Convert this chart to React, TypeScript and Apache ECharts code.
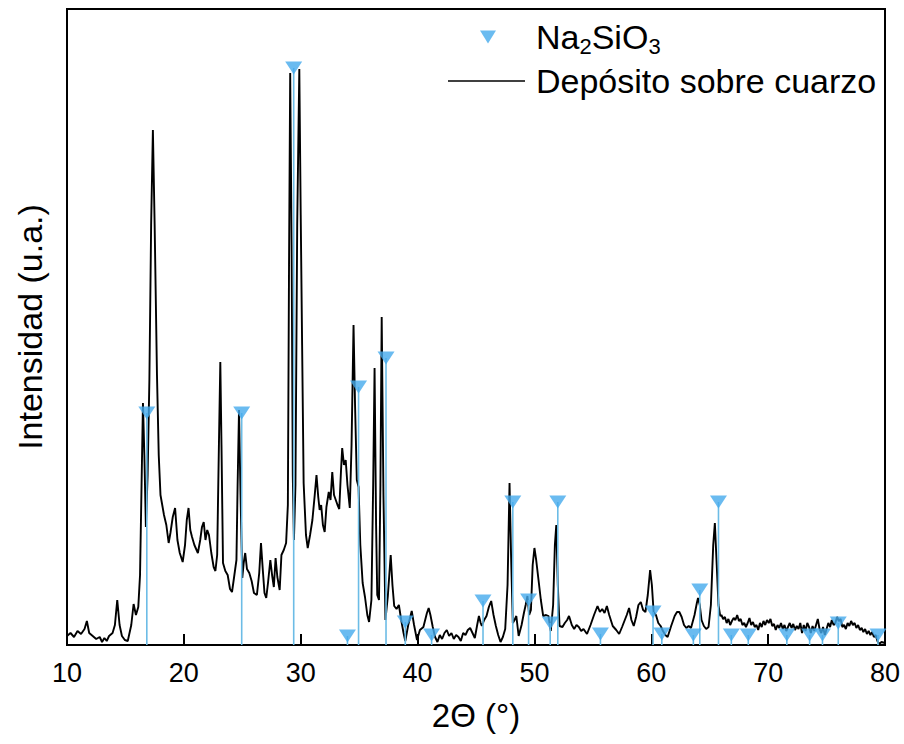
import { useEffect, useRef } from 'react';
import * as echarts from 'echarts';

// Measured pattern "Depósito sobre cuarzo": [2θ (degrees), intensity (a.u.)]
const depositPattern: [number, number][] = [
  [10.0, 9], [10.3, 12], [10.6, 8], [10.9, 14], [11.2, 11], [11.5, 16], [11.7, 24], [11.9, 12],
  [12.2, 9], [12.5, 6], [12.8, 8], [13.0, 3], [13.2, 7], [13.4, 4], [13.6, 9], [13.9, 12],
  [14.1, 20], [14.3, 45], [14.5, 20], [14.7, 9], [14.95, 5], [15.2, 4], [15.5, 20], [15.7, 41],
  [15.9, 30], [16.1, 38], [16.25, 70], [16.38, 160], [16.5, 242], [16.62, 190], [16.75, 118],
  [16.9, 170], [17.05, 265], [17.2, 420], [17.35, 515], [17.5, 420], [17.7, 270], [17.85, 190],
  [18.0, 150], [18.15, 140], [18.3, 130], [18.5, 120], [18.7, 102], [18.85, 112], [19.05, 128],
  [19.25, 137], [19.45, 105], [19.65, 92], [19.9, 83], [20.1, 100], [20.25, 125], [20.4, 137],
  [20.55, 115], [20.7, 108], [20.9, 100], [21.05, 96], [21.2, 92], [21.4, 105], [21.55, 118],
  [21.7, 123], [21.85, 105], [22.0, 115], [22.15, 110], [22.35, 92], [22.55, 78], [22.7, 74],
  [22.85, 90], [23.0, 200], [23.12, 283], [23.22, 200], [23.35, 82], [23.55, 74], [23.75, 70],
  [23.95, 56], [24.12, 53], [24.3, 68], [24.5, 85], [24.6, 160], [24.72, 235], [24.85, 150],
  [25.0, 67], [25.12, 82], [25.25, 92], [25.4, 76], [25.6, 72], [25.8, 64], [26.0, 52],
  [26.25, 50], [26.45, 72], [26.6, 102], [26.75, 76], [26.9, 52], [27.05, 47], [27.2, 62],
  [27.4, 85], [27.55, 70], [27.7, 58], [27.85, 87], [28.0, 68], [28.2, 55], [28.35, 90],
  [28.55, 95], [28.75, 102], [28.9, 140], [29.0, 380], [29.1, 572], [29.22, 400], [29.32, 170],
  [29.42, 105], [29.55, 160], [29.7, 420], [29.88, 576], [30.0, 430], [30.12, 300], [30.25, 162],
  [30.45, 110], [30.6, 97], [30.8, 110], [31.0, 125], [31.2, 150], [31.35, 170], [31.5, 148],
  [31.62, 135], [31.75, 140], [31.9, 120], [32.05, 113], [32.2, 138], [32.4, 153], [32.55, 145],
  [32.7, 173], [32.85, 150], [33.0, 145], [33.15, 140], [33.3, 136], [33.45, 175], [33.55, 197],
  [33.7, 180], [33.85, 185], [34.0, 160], [34.2, 137], [34.35, 200], [34.52, 320], [34.65, 240],
  [34.8, 165], [34.95, 158], [35.1, 100], [35.3, 62], [35.5, 48], [35.7, 30], [35.85, 23],
  [36.05, 45], [36.2, 160], [36.32, 277], [36.45, 120], [36.55, 50], [36.7, 45], [36.82, 160],
  [36.93, 328], [37.08, 150], [37.25, 25], [37.45, 48], [37.7, 90], [37.85, 60], [38.0, 39],
  [38.2, 36], [38.4, 40], [38.6, 25], [38.8, 12], [38.95, 4], [39.2, 20], [39.5, 34], [39.7, 20],
  [39.95, 5], [40.2, 15], [40.5, 18], [40.8, 32], [40.95, 37], [41.1, 30], [41.3, 18], [41.5, 8],
  [41.7, 3], [41.9, 10], [42.1, 6], [42.3, 12], [42.5, 15], [42.7, 9], [42.9, 12], [43.1, 6],
  [43.3, 10], [43.5, 8], [43.7, 4], [43.9, 12], [44.1, 10], [44.3, 15], [44.5, 17], [44.7, 12],
  [44.9, 7], [45.1, 20], [45.25, 29], [45.4, 22], [45.5, 19], [45.7, 25], [45.9, 29], [46.1, 38],
  [46.3, 44], [46.5, 30], [46.7, 19], [46.9, 10], [47.1, 3], [47.3, 8], [47.5, 16], [47.7, 60],
  [47.87, 162], [48.0, 90], [48.15, 22], [48.3, 25], [48.45, 29], [48.65, 9], [48.9, 20],
  [49.1, 32], [49.25, 40], [49.4, 49], [49.55, 30], [49.7, 35], [49.85, 80], [50.0, 97],
  [50.15, 85], [50.35, 65], [50.55, 45], [50.75, 29], [51.0, 30], [51.2, 29], [51.4, 14],
  [51.6, 40], [51.75, 100], [51.87, 120], [52.0, 60], [52.15, 19], [52.4, 18], [52.6, 22],
  [52.8, 25], [52.96, 29], [53.2, 20], [53.4, 16], [53.6, 20], [53.8, 18], [54.0, 14], [54.2, 16],
  [54.5, 11], [54.8, 20], [55.1, 30], [55.4, 39], [55.6, 33], [55.8, 36], [56.0, 32], [56.2, 39],
  [56.4, 30], [56.7, 19], [57.0, 15], [57.25, 11], [57.5, 18], [57.7, 24], [57.9, 30], [58.1, 37],
  [58.3, 25], [58.5, 19], [58.7, 28], [58.9, 40], [59.1, 43], [59.3, 35], [59.5, 33], [59.7, 50],
  [59.9, 75], [60.05, 60], [60.2, 33], [60.4, 30], [60.6, 22], [60.8, 19], [61.0, 14], [61.2, 10],
  [61.4, 8], [61.7, 19], [62.0, 29], [62.2, 33], [62.4, 33], [62.6, 28], [62.8, 20], [63.0, 17],
  [63.2, 19], [63.4, 17], [63.7, 30], [63.9, 42], [64.0, 47], [64.15, 40], [64.3, 25], [64.5, 19],
  [64.7, 16], [64.9, 18], [65.1, 40], [65.3, 100], [65.44, 122], [65.6, 80], [65.75, 40],
  [65.9, 29], [66.0, 30], [66.15, 26], [66.3, 28], [66.45, 22], [66.6, 26], [66.75, 20],
  [66.9, 24], [67.05, 27], [67.2, 25], [67.35, 30], [67.5, 24], [67.65, 26], [67.8, 20],
  [67.95, 22], [68.1, 18], [68.25, 22], [68.4, 27], [68.55, 20], [68.7, 23], [68.85, 18],
  [69.0, 20], [69.15, 15], [69.3, 22], [69.45, 18], [69.6, 24], [69.75, 20], [69.9, 25],
  [70.05, 22], [70.2, 26], [70.35, 19], [70.5, 21], [70.65, 15], [70.8, 20], [70.95, 17],
  [71.1, 22], [71.25, 16], [71.4, 20], [71.55, 14], [71.7, 18], [71.85, 22], [72.0, 17],
  [72.15, 21], [72.3, 15], [72.45, 19], [72.6, 16], [72.75, 22], [72.9, 12], [73.05, 20],
  [73.2, 14], [73.35, 22], [73.5, 18], [73.65, 12], [73.8, 19], [73.95, 14], [74.1, 20],
  [74.25, 26], [74.4, 16], [74.55, 12], [74.7, 18], [74.85, 10], [75.0, 16], [75.15, 22],
  [75.3, 18], [75.45, 25], [75.6, 20], [75.75, 22], [75.9, 28], [76.05, 24], [76.2, 26],
  [76.35, 18], [76.5, 20], [76.65, 16], [76.8, 22], [76.95, 19], [77.1, 24], [77.25, 20],
  [77.4, 22], [77.55, 17], [77.7, 20], [77.85, 15], [78.0, 17], [78.15, 13], [78.3, 16],
  [78.45, 11], [78.6, 14], [78.75, 10], [78.9, 13], [79.05, 8], [79.2, 10], [79.35, 4],
  [79.5, 1], [79.7, 3], [80.0, 2],
];

// Na2SiO3 reference reflections: position (2θ) and marker height (a.u.)
const refPos = [
  16.83, 24.95, 29.4, 34.0, 34.95, 37.3, 38.95, 41.2, 45.6, 48.15, 49.5, 51.35, 52.0,
  55.65, 60.15, 60.9, 63.6, 64.15, 65.75, 66.85, 68.3, 71.6, 73.55, 74.65, 76.0, 79.4,
];
const refHeight = [
  232, 232, 577, 9, 258, 287, 23, 10, 44, 143, 45, 22, 143,
  11, 33, 11, 10, 55, 143, 10, 10, 10, 10, 10, 22, 10,
];

const refName = 'Na2SiO3';
const depositName = 'Depósito sobre cuarzo';
const xAxisName = '2Θ (°)';
const yAxisName = 'Intensidad (u.a.)';

const FONT = '"Liberation Sans", Arial, sans-serif';
const TRI = '#45AAEC';
const STICK = '#6CBCE6';

const richText = {
  a0: { fontFamily: FONT, fontSize: 34, lineHeight: 40, color: '#000', padding: [0, 0, 0, 35] },
  a6: { fontFamily: FONT, fontSize: 34, lineHeight: 40, color: '#000', padding: [0, 0, 0, 6] },
  a: { fontFamily: FONT, fontSize: 34, lineHeight: 40, color: '#000' },
  s: { fontFamily: FONT, fontSize: 22, lineHeight: 22, verticalAlign: 'bottom', color: '#000' },
};

export default function App() {
  const ref = useRef<HTMLDivElement>(null);

  useEffect(() => {
    if (!ref.current) return;
    const chart = echarts.init(ref.current, undefined, { renderer: 'svg' });
    const refs = refPos.map((x, i) => [x, refHeight[i]]);

    chart.setOption({
      animation: false,
      backgroundColor: '#ffffff',
      textStyle: { fontFamily: FONT },
      grid: {
        left: 67,
        right: 19,
        top: 9,
        bottom: 99,
        show: true,
        borderColor: '#000',
        borderWidth: 2,
        backgroundColor: 'transparent',
      },
      legend: [
        {
          data: [refName],
          orient: 'vertical',
          left: 475,
          top: 15,
          itemWidth: 16,
          itemHeight: 13,
          icon: 'path://M0,0L16,0L8,13Z',
          itemStyle: { color: TRI },
          selectedMode: false,
          formatter: () => '{a0|Na}{s|2}{a|SiO}{s|3}',
          textStyle: { fontFamily: FONT, color: '#000', fontSize: 34, rich: richText },
        },
        {
          data: [depositName],
          orient: 'vertical',
          left: 443,
          top: 59,
          itemWidth: 77,
          itemHeight: 1.6,
          icon: 'rect',
          itemStyle: { color: '#000' },
          selectedMode: false,
          formatter: (name: string) => '{a6|' + name + '}',
          textStyle: { fontFamily: FONT, color: '#000', fontSize: 34, rich: richText },
        },
      ],
      xAxis: {
        type: 'value',
        min: 10,
        max: 80,
        interval: 10,
        name: xAxisName,
        nameLocation: 'middle',
        nameGap: 54,
        nameTextStyle: { fontFamily: FONT, fontSize: 33, color: '#000' },
        axisLine: { show: true, lineStyle: { color: '#000', width: 2 } },
        axisTick: { show: true, inside: true, length: 11, lineStyle: { color: '#000', width: 2 } },
        axisLabel: { fontFamily: FONT, fontSize: 27, color: '#000', margin: 14 },
        splitLine: { show: false },
      },
      yAxis: {
        type: 'value',
        min: 0,
        max: 636,
        name: yAxisName,
        nameLocation: 'middle',
        nameGap: 20,
        nameTextStyle: { fontFamily: FONT, fontSize: 34, color: '#000' },
        axisLine: { show: true, lineStyle: { color: '#000', width: 2 } },
        axisTick: { show: false },
        axisLabel: { show: false },
        splitLine: { show: false },
      },
      series: [
        {
          name: depositName,
          type: 'line',
          data: depositPattern,
          symbol: 'none',
          lineStyle: { color: '#000', width: 1.9 },
          itemStyle: { color: '#000' },
          z: 2,
        },
        {
          name: 'sticks',
          type: 'custom',
          data: refs,
          encode: { x: 0, y: 1 },
          z: 3,
          renderItem: (_params: any, api: any) => {
            const x = api.value(0);
            const h = api.value(1);
            const p0 = api.coord([x, 0]);
            const p1 = api.coord([x, h]);
            return {
              type: 'line',
              shape: { x1: p0[0], y1: p0[1], x2: p1[0], y2: p1[1] },
              style: { stroke: STICK, lineWidth: 1.6 },
            };
          },
        },
        {
          name: refName,
          type: 'scatter',
          data: refs,
          symbol: 'triangle',
          symbolRotate: 180,
          symbolSize: [17, 13],
          itemStyle: { color: TRI },
          z: 4,
        },
      ],
    });

    return () => {
      chart.dispose();
    };
  }, []);

  return (
    <div
      ref={ref}
      style={{ position: 'fixed', left: 0, top: 0, width: 904, height: 744, background: '#fff' }}
    />
  );
}
